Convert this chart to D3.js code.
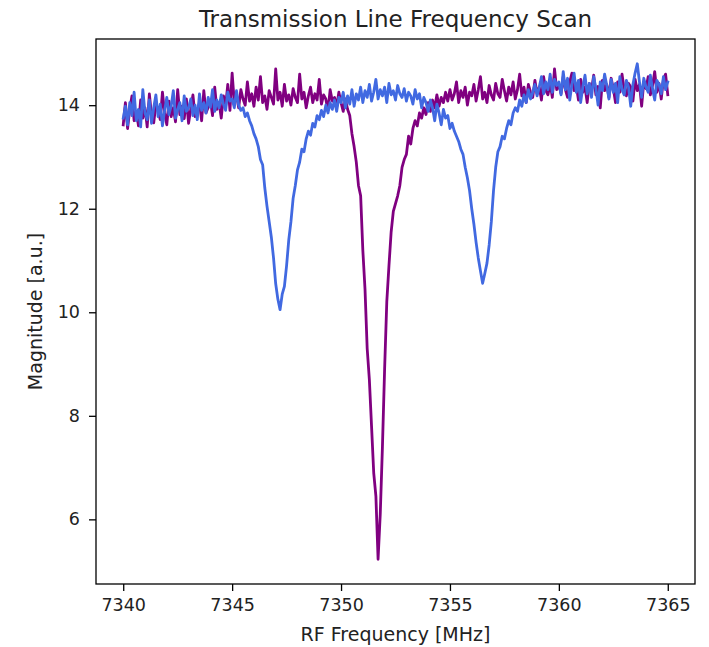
<!DOCTYPE html>
<html>
<head>
<meta charset="utf-8">
<script src="https://cdn.jsdelivr.net/npm/d3@7"></script>
<style>
  html, body { margin: 0; padding: 0; background: #fff; }
  svg { display: block; font-family: "DejaVu Sans", sans-serif; }
</style>
</head>
<body>
<svg id="chart" width="709" height="647"></svg>
<script>
// Frequency grid: 7340.0 .. 7365.0 MHz in 0.1 MHz steps (251 samples)
const freqStart = 7340.0;
const freqStep = 0.1;

const xTicks = [7340, 7345, 7350, 7355, 7360, 7365];
const yTicks = [6, 8, 10, 12, 14];

// Purple trace (single deep resonance near 7351.7 MHz)
const purpleValues = [
  13.62, 14.05, 13.55, 13.92, 14.18, 13.70, 13.88, 13.60, 14.10, 13.75,
  13.95, 13.58, 14.22, 13.80, 13.66, 14.02, 13.90, 13.72, 14.25, 13.85,
  13.62, 14.08, 13.78, 13.95, 13.68, 14.30, 13.82, 13.98, 13.74, 14.12,
  13.65, 13.92, 14.20, 13.78, 13.88, 14.05, 13.70, 14.28, 13.85, 13.96,
  14.10, 13.80, 14.35, 13.92, 14.05, 13.75, 14.18, 13.98, 14.40, 13.90,
  14.62, 14.05, 14.20, 13.95, 14.30, 14.12, 14.00, 14.45, 14.08, 14.22,
  13.98, 14.35, 14.10, 14.55, 14.05, 14.18, 13.92, 14.28, 14.15, 14.02,
  14.70, 14.10, 14.25, 13.98, 14.40, 14.08, 14.20, 14.00, 14.32, 14.15,
  14.05, 14.60, 14.12, 14.25, 13.95, 14.18, 14.35, 14.05, 14.22, 14.10,
  14.50, 14.02, 14.20, 14.12, 13.90, 14.30, 14.08, 14.15, 13.98, 14.25,
  14.05, 13.88, 14.12, 13.92, 13.80, 13.45, 13.20, 12.90, 12.45, 12.25,
  11.20, 10.45, 9.30, 8.70, 7.80, 6.90, 6.45, 5.23, 6.10, 7.40,
  8.90, 10.20, 10.90, 11.55, 11.95, 12.10, 12.25, 12.45, 12.80, 12.95,
  13.05, 13.40, 13.25, 13.55, 13.70, 13.60, 13.85, 13.75, 13.95, 13.82,
  14.05, 13.88, 14.10, 13.95, 14.20, 13.98, 14.15, 14.05, 14.25, 14.08,
  14.30, 14.10, 14.22, 14.45, 14.05, 14.28, 14.15, 14.35, 14.00, 14.25,
  14.18, 14.40, 14.08, 14.30, 14.55, 14.12, 14.25, 14.05, 14.38, 14.20,
  14.10, 14.42, 14.22, 14.15, 14.50, 14.28, 14.08, 14.35, 14.20, 14.45,
  14.12, 14.30, 14.60, 14.18, 14.35, 14.05, 14.40, 14.25, 14.15, 14.48,
  14.22, 14.35, 14.10, 14.55, 14.28, 14.20, 14.42, 14.15, 14.70, 14.30,
  14.40, 14.22, 14.55, 14.30, 14.15, 14.45, 14.62, 14.28, 14.38, 14.10,
  14.50, 14.25, 14.35, 14.05, 14.42, 14.30, 14.58, 14.20, 14.36, 13.95,
  14.48, 14.28, 14.40, 14.15, 14.52, 14.32, 14.05, 14.45, 14.25, 14.60,
  14.30, 14.18, 14.42, 14.35, 14.08, 14.50, 14.28, 14.40, 13.98, 14.45,
  14.32, 14.55, 14.20, 14.38, 14.65, 14.25, 14.42, 14.12, 14.50, 14.60,
  14.20
];

// Blue trace (two resonances near 7347.2 and 7356.5 MHz)
const blueValues = [
  13.75, 13.98, 13.62, 14.05, 13.80, 14.25, 13.70, 13.92, 13.58, 14.30,
  13.85, 13.72, 14.10, 13.65, 13.95, 14.20, 13.78, 14.02, 13.60, 13.90,
  14.15, 13.82, 13.98, 14.28, 13.75, 13.92, 14.05, 13.70, 14.18, 13.88,
  13.95, 14.12, 13.80, 14.00, 13.72, 14.22, 13.90, 14.05, 13.85, 14.15,
  13.96, 14.30, 13.88, 14.10, 13.95, 14.20, 14.02, 13.90, 14.25, 14.08,
  14.12, 13.95, 14.28, 14.00, 13.90, 13.95, 13.78, 13.85, 13.70, 13.60,
  13.45, 13.35, 13.20, 12.95, 12.85, 12.40, 12.05, 11.75, 11.45, 11.05,
  10.55, 10.25, 10.05, 10.35, 10.50, 10.90, 11.40, 11.75, 12.20, 12.45,
  12.75, 12.90, 13.15, 13.10, 13.35, 13.50, 13.42, 13.65, 13.58, 13.80,
  13.72, 13.90, 13.78, 14.00, 13.85, 14.05, 13.92, 14.10, 13.88, 14.15,
  14.05, 14.25, 13.95, 14.18, 14.02, 14.30, 13.98, 14.22, 14.10, 14.35,
  14.05, 14.28, 14.15, 14.40, 14.08, 14.25, 14.50, 14.12, 14.30, 14.18,
  14.35, 14.05, 14.42, 14.20, 14.28, 14.10, 14.38, 14.22, 14.15, 14.32,
  14.08, 14.25, 14.18, 14.02, 14.30, 14.12, 14.22, 13.95, 14.15, 14.05,
  13.88, 14.10, 13.95, 13.70, 14.02, 13.85, 13.62, 13.92, 13.75, 13.80,
  13.55, 13.65, 13.50, 13.40, 13.30, 13.15, 13.05, 12.80, 12.60, 12.35,
  12.00, 11.70, 11.35, 11.05, 10.80, 10.56, 10.75, 10.95, 11.30, 11.75,
  12.35, 12.80, 13.10, 13.20, 13.40, 13.35, 13.55, 13.70, 13.62, 13.85,
  13.95, 13.88, 14.10, 13.98, 14.20, 14.05, 14.30, 14.12, 14.25, 14.40,
  14.18, 14.35, 14.55, 14.22, 14.45, 14.30, 14.60, 14.25, 14.50, 14.38,
  14.45, 14.20, 14.65, 14.30, 14.52, 14.10, 14.40, 14.62, 14.25, 14.48,
  14.05, 14.35, 14.58, 14.22, 14.42, 14.15, 14.55, 14.32, 14.00, 14.45,
  14.28, 14.60, 14.38, 14.12, 14.50, 14.25, 14.42, 14.05, 14.55, 14.30,
  14.20, 14.48, 14.35, 13.98, 14.40, 14.62, 14.80, 14.45, 14.15, 14.52,
  14.35, 14.25, 14.58, 14.32, 14.10, 14.48, 14.40, 14.22, 14.55, 14.30,
  14.45
];

const seriesColors = { purple: "#800080", blue: "#4169e1" };

const titleText = "Transmission Line Frequency Scan";
const xLabelText = "RF Frequency [MHz]";
const yLabelText = "Magnitude [a.u.]";

// ---- layout ----
const svg = d3.select("#chart");
const plot = { left: 96, right: 695, top: 39, bottom: 584 };

const freqs = purpleValues.map((_, i) => +(freqStart + i * freqStep).toFixed(1));
const purpleData = purpleValues.map((v, i) => [freqs[i], v]);
const blueData = blueValues.map((v, i) => [freqs[i], v]);

const xExt = d3.extent(freqs);
const xPad = (xExt[1] - xExt[0]) * 0.05;
const allY = purpleValues.concat(blueValues);
const yExt = d3.extent(allY);
const yPad = (yExt[1] - yExt[0]) * 0.05;

const x = d3.scaleLinear().domain([xExt[0] - xPad, xExt[1] + xPad]).range([plot.left, plot.right]);
const y = d3.scaleLinear().domain([yExt[0] - yPad, yExt[1] + yPad]).range([plot.bottom, plot.top]);

const line = d3.line().x(d => x(d[0])).y(d => y(d[1]));

svg.append("defs").append("clipPath").attr("id", "clip")
  .append("rect").attr("x", plot.left).attr("y", plot.top)
  .attr("width", plot.right - plot.left).attr("height", plot.bottom - plot.top);

const g = svg.append("g").attr("clip-path", "url(#clip)");
g.append("path").datum(purpleData).attr("d", line)
  .attr("fill", "none").attr("stroke", seriesColors.purple)
  .attr("stroke-width", 2.8).attr("stroke-linejoin", "round").attr("stroke-linecap", "square");
g.append("path").datum(blueData).attr("d", line)
  .attr("fill", "none").attr("stroke", seriesColors.blue)
  .attr("stroke-width", 2.8).attr("stroke-linejoin", "round").attr("stroke-linecap", "square");

// axes
const xAxis = d3.axisBottom(x).tickValues(xTicks).tickFormat(d3.format("d")).tickSizeOuter(0).tickSize(7).tickPadding(8);
const yAxis = d3.axisLeft(y).tickValues(yTicks).tickFormat(d3.format("d")).tickSizeOuter(0).tickSize(7).tickPadding(9);

const gx = svg.append("g").attr("transform", `translate(0,${plot.bottom})`).call(xAxis);
const gy = svg.append("g").attr("transform", `translate(${plot.left},0)`).call(yAxis);
[gx, gy].forEach(a => {
  a.select(".domain").remove();
  a.selectAll(".tick line").attr("stroke", "#000").attr("stroke-width", 1.3);
  a.selectAll(".tick text").attr("fill", "#222").attr("font-size", "17.5px")
    .attr("font-family", "DejaVu Sans, sans-serif");
});

// frame
svg.append("rect").attr("x", plot.left).attr("y", plot.top)
  .attr("width", plot.right - plot.left).attr("height", plot.bottom - plot.top)
  .attr("fill", "none").attr("stroke", "#000").attr("stroke-width", 1.3);

// texts
svg.append("text").attr("x", (plot.left + plot.right) / 2).attr("y", 27)
  .attr("text-anchor", "middle").attr("font-size", "23px").attr("fill", "#222").text(titleText);
svg.append("text").attr("x", (plot.left + plot.right) / 2).attr("y", 641)
  .attr("text-anchor", "middle").attr("font-size", "19px").attr("fill", "#222").text(xLabelText);
svg.append("text").attr("transform", `translate(42,${(plot.top + plot.bottom) / 2}) rotate(-90)`)
  .attr("text-anchor", "middle").attr("font-size", "19px").attr("fill", "#222").text(yLabelText);
</script>
</body>
</html>
